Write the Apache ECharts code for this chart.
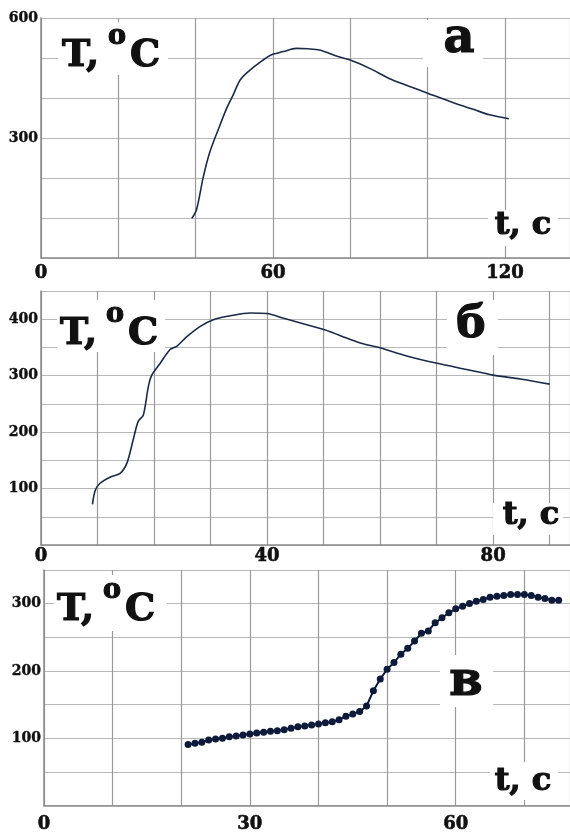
<!DOCTYPE html>
<html><head><meta charset="utf-8">
<script src="https://cdn.jsdelivr.net/npm/echarts@6/dist/echarts.min.js"></script>
<style>html,body{margin:0;padding:0;background:#fff}#c{width:570px;height:834px}</style>
</head><body><div id="c"></div>
<script>
// Panel а
const tA = [39, 40.2, 42, 43.7, 45.8, 48, 49.7, 51.5, 53.6, 56.6, 59.6, 62.7, 66, 69, 72, 77, 80, 85, 90, 95, 100, 107, 112, 116, 121];
const TA = [99, 120, 204, 266, 320, 374, 408, 445, 466, 489, 508, 516, 524, 523, 520, 503, 495, 474, 449, 430, 412, 387, 371, 358, 348];
const xLabelsA = [0, 60, 120];
const yLabelsA = [300, 600];
// Panel б
const tB = [9.1, 9.6, 10.4, 12.2, 14, 15.2, 16.3, 17.2, 18.1, 19, 19.6, 21.1, 22.8, 24, 25.8, 28.1, 30.5, 33.5, 37, 40, 42.8, 45.3, 50.3, 53.2, 56.5, 60.1, 64.7, 70.1, 75.3, 80, 84.8, 90];
const TB = [72, 97, 109, 120, 127, 145, 186, 219, 230, 281, 301, 322, 346, 352, 369, 387, 399, 406, 411, 410, 402, 395, 381, 370, 358, 349, 335, 322, 311, 301, 294, 285];
const xLabelsB = [0, 40, 80];
const yLabelsB = [100, 200, 300, 400];
// Panel в
const tC = [21, 22, 23, 24, 25, 26, 27, 28, 29, 30, 31, 32, 33, 34, 35, 36, 37, 38, 39, 40, 41, 42, 43, 44, 45, 46, 47, 48, 49, 50, 51, 52, 53, 54, 55, 56, 57, 58, 59, 60, 61, 62, 63, 64, 65, 66, 67, 68, 69, 70, 71, 72, 73, 74, 75];
const TC = [90.7, 92.7, 94.2, 97.6, 99.1, 100.1, 102.5, 103.6, 105, 106.5, 108, 109, 110.5, 111.4, 112.9, 114.9, 117.3, 118.5, 120, 121.5, 123, 124.8, 127.7, 132.7, 136, 140, 148, 170.6, 188, 202.7, 212.5, 225, 233.7, 244.6, 256, 259.4, 271.7, 279, 286.5, 292.4, 296, 300.3, 303.5, 306.2, 309.6, 311, 312, 313.6, 313.6, 313.6, 312, 309.6, 307.7, 305.2, 305.2];
const xLabelsC = [0, 30, 60];
const yLabelsC = [100, 200, 300];

const FONT = '"DejaVu Serif", "Liberation Serif", serif';
const zip = (a, b) => a.map((v, i) => [v, b[i]]);

function xAx(idx, max, interval, labels, margin) {
  return {
    gridIndex: idx, type: 'value', min: 0, max: max, interval: interval,
    axisLine: { show: true, lineStyle: { color: '#8a8a8a', width: 1.5 } },
    axisTick: { show: false },
    splitLine: { show: true, lineStyle: { color: '#9a9a9a', width: 1.2 } },
    axisLabel: {
      margin: margin, fontFamily: FONT, fontWeight: 'bold', fontSize: 18, color: '#111',
      textBorderColor: '#111', textBorderWidth: 0.6,
      showMaxLabel: false,
      formatter: v => labels.indexOf(v) >= 0 ? String(v) : ''
    }
  };
}
function yAx(idx, max, interval, labels) {
  return {
    gridIndex: idx, type: 'value', min: 0, max: max, interval: interval,
    axisLine: { show: true, lineStyle: { color: '#8a8a8a', width: 1.5 } },
    axisTick: { show: false },
    splitLine: { show: true, lineStyle: { color: '#b8b8b8', width: 1.2 } },
    axisLabel: {
      margin: 3, fontFamily: FONT, fontWeight: 'bold', fontSize: 14, color: '#111',
      textBorderColor: '#111', textBorderWidth: 0.4,
      formatter: v => labels.indexOf(v) >= 0 ? String(v) : ''
    }
  };
}

function box(x, y, w, h) {
  return { type: 'rect', shape: { x: x, y: y, width: w, height: h }, style: { fill: '#fff' }, z: 50 };
}
function txt(x, y, s, size, align) {
  return { type: 'text', x: x, y: y, z: 51,
    style: { text: s, fill: '#111', stroke: '#111', lineWidth: 1.2,
      font: 'bold ' + size + 'px ' + FONT, textAlign: align || 'left', textVerticalAlign: 'middle' } };
}
function tempLabel(dx, dy) {
  return [
    txt(62 + dx, 56 + dy, 'T,', 38),
    txt(117 + dx, 37 + dy, 'o', 27, 'center'),
    txt(130 + dx, 56 + dy, 'C', 38)
  ];
}

const graphic = [];
// panel а labels
graphic.push(box(58, 22, 110, 53));
graphic.push(...tempLabel(0, 0));
graphic.push(box(423, 20, 60, 47));
graphic.push(txt(459, 40, 'а', 48, 'center'));
graphic.push(box(488, 210, 70, 36));
graphic.push(txt(523, 226, 't, c', 32, 'center'));
// panel б
graphic.push(box(57, 300, 108, 52));
graphic.push(...tempLabel(-2, 278));
graphic.push(box(447, 300, 51, 55));
graphic.push(txt(471, 326, 'б', 44, 'center'));
graphic.push(box(493, 503, 70, 32));
graphic.push(txt(531, 516, 't, c', 32, 'center'));
// panel в
graphic.push(box(54, 575, 113, 56));
graphic.push(...tempLabel(-5, 554));
graphic.push(box(440, 655, 53, 52));
graphic.push(txt(466, 683, 'в', 48, 'center'));
graphic.push(box(490, 762, 68, 38));
graphic.push(txt(523, 782, 't, c', 32, 'center'));

const chart = echarts.init(document.getElementById('c'), null, { renderer: 'canvas' });
chart.setOption({
  animation: false,
  backgroundColor: '#fff',
  grid: [
    { left: 41, top: 18, width: 529, height: 240 },
    { left: 41, top: 291, width: 529, height: 254 },
    { left: 44, top: 570, width: 526, height: 237 }
  ],
  xAxis: [
    xAx(0, 136.8, 20, xLabelsA, 6),
    xAx(1, 93.6, 10, xLabelsB, 2),
    xAx(2, 76.65, 10, xLabelsC, 10)
  ],
  yAxis: [
    yAx(0, 600, 100, yLabelsA),
    yAx(1, 450, 50, yLabelsB),
    yAx(2, 350, 50, yLabelsC)
  ],
  series: [
    { type: 'line', xAxisIndex: 0, yAxisIndex: 0, data: zip(tA, TA), showSymbol: false, smooth: 0.3,
      lineStyle: { color: '#1b2a48', width: 1.6 } },
    { type: 'line', xAxisIndex: 1, yAxisIndex: 1, data: zip(tB, TB), showSymbol: false, smooth: 0.3,
      lineStyle: { color: '#1b2a48', width: 1.6 } },
    { type: 'line', xAxisIndex: 2, yAxisIndex: 2, data: zip(tC, TC), symbol: 'circle', symbolSize: 7,
      itemStyle: { color: '#0e1a3a' }, lineStyle: { color: '#0e1a3a', width: 2 } }
  ],
  graphic: graphic
});
</script>
</body></html>
